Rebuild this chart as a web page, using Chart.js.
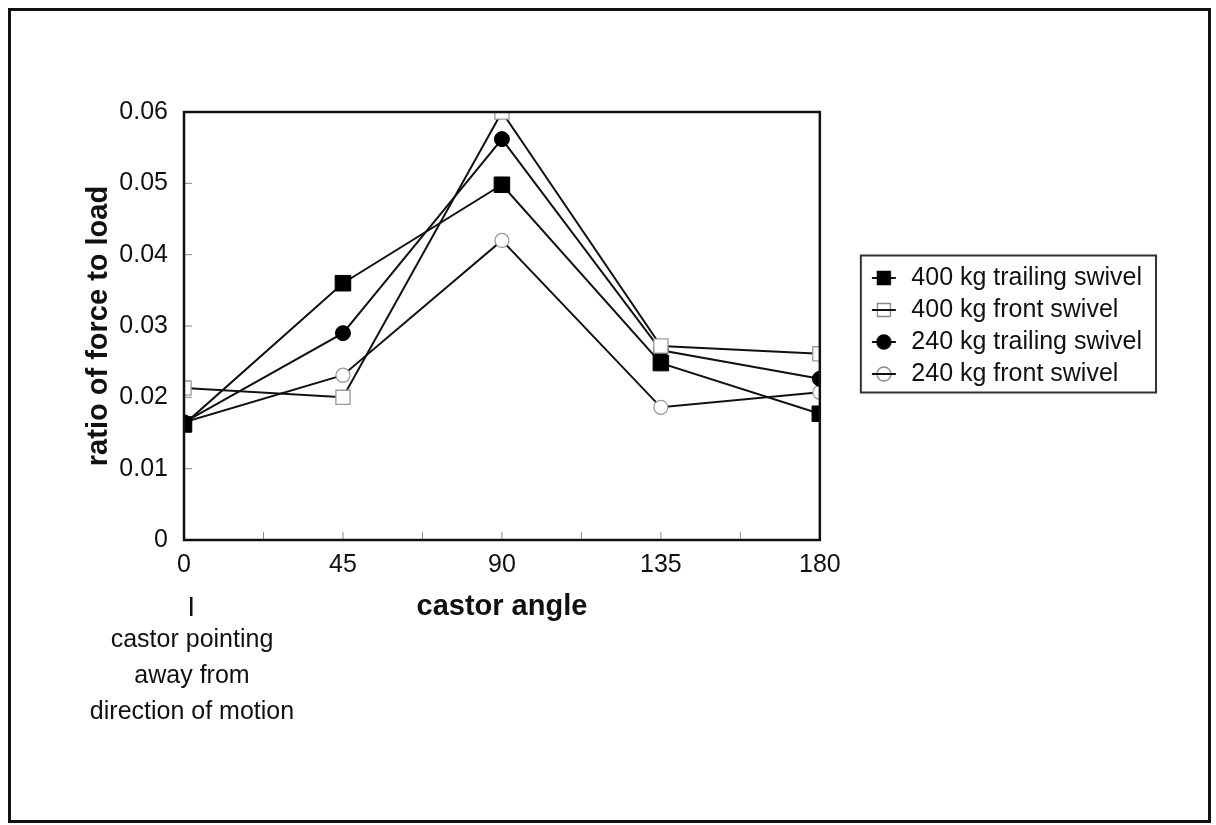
<!DOCTYPE html>
<html>
<head>
<meta charset="utf-8">
<script src="https://cdn.jsdelivr.net/npm/chart.js@4.4.1/dist/chart.umd.min.js"></script>
<style>
    body { margin: 0; background: #fff; }
    #wrap { position: relative; width: 1216px; height: 825px; }
    #frame {
        position: absolute; left: 8px; top: 8px; width: 1203px; height: 815px;
        box-sizing: border-box; border: 3px solid #111; pointer-events: none;
    }
</style>
</head>
<body>
<div id="wrap">
    <canvas id="grafico" width="1216" height="825"></canvas>
    <div id="frame"></div>
</div>
<script>
const angulos = [0, 45, 90, 135, 180];
const trailing400 = [0.0162, 0.0360, 0.0498, 0.0248, 0.0177];
const front400 = [0.0213, 0.0200, 0.0600, 0.0272, 0.0261];
const trailing240 = [0.0165, 0.0290, 0.0562, 0.0266, 0.0226];
const front240 = [0.0165, 0.0231, 0.0420, 0.0186, 0.0207];
const nomes = ['400 kg trailing swivel', '400 kg front swivel', '240 kg trailing swivel', '240 kg front swivel'];
const minorX = [22.5, 45, 67.5, 90, 112.5, 135, 157.5];
const nota = ['castor pointing', 'away from', 'direction of motion'];

const fonte = '"Liberation Sans", Arial, sans-serif';

function pontos(valores) {
    return angulos.map((a, i) => ({ x: a, y: valores[i] }));
}

// little icons for the legend: marker with a line through it
function icone(tipo, cheio) {
    const c = document.createElement('canvas');
    c.width = 26; c.height = 18;
    const g = c.getContext('2d');
    g.strokeStyle = '#111'; g.lineWidth = 2;
    g.beginPath(); g.moveTo(1, 9); g.lineTo(25, 9); g.stroke();
    g.fillStyle = cheio ? '#000' : '#fff';
    g.strokeStyle = cheio ? '#000' : '#888';
    g.lineWidth = 1.3;
    g.beginPath();
    if (tipo === 'rect') g.rect(6.5, 2.5, 13, 13);
    else g.arc(13, 9, 7, 0, Math.PI * 2);
    g.fill(); g.stroke();
    if (!cheio) { g.strokeStyle = '#111'; g.lineWidth = 2; g.beginPath(); g.moveTo(1, 9); g.lineTo(25, 9); g.stroke(); }
    return c;
}
const icones = [icone('rect', true), icone('rect', false), icone('circle', true), icone('circle', false)];

const extras = {
    id: 'extras',
    afterDraw(chart) {
        const { ctx, chartArea: a, scales: { x, y } } = chart;
        ctx.save();
        ctx.strokeStyle = '#888';
        ctx.lineWidth = 1;
        minorX.forEach(v => {
            const px = x.getPixelForValue(v);
            ctx.beginPath(); ctx.moveTo(px, a.bottom); ctx.lineTo(px, a.bottom - 8); ctx.stroke();
        });
        y.ticks.forEach(t => {
            const py = y.getPixelForValue(t.value);
            ctx.beginPath(); ctx.moveTo(a.left, py); ctx.lineTo(a.left + 8, py); ctx.stroke();
        });

        ctx.strokeStyle = '#111';
        ctx.lineWidth = 2.5;
        ctx.strokeRect(a.left, a.top, a.right - a.left, a.bottom - a.top);

        // box around the legend
        const lg = chart.legend;
        const hb = lg.legendHitBoxes;
        const topo = Math.min(...hb.map(h => h.top)) - 10;
        const base = Math.max(...hb.map(h => h.top + h.height)) + 6;
        const dir = Math.max(...hb.map(h => h.left + h.width)) + 14;
        ctx.lineWidth = 2;
        ctx.strokeStyle = '#333';
        ctx.strokeRect(lg.left - 1, topo, dir - lg.left + 1, base - topo);

        // note under the 0 tick
        const x0 = x.getPixelForValue(0) + 8;
        ctx.fillStyle = '#111';
        ctx.fillRect(x0 - 2, 597, 2.5, 19);
        ctx.font = '25px ' + fonte;
        ctx.textAlign = 'center';
        ctx.textBaseline = 'middle';
        nota.forEach((linha, i) => ctx.fillText(linha, x0, 640 + i * 36));
        ctx.restore();
    }
};

function serie(i, valores, estilo, cheio, raio) {
    return {
        label: nomes[i],
        data: pontos(valores),
        borderColor: '#111',
        borderWidth: 2,
        tension: 0,
        pointStyle: estilo,
        pointRadius: raio,
        pointBackgroundColor: cheio ? '#000' : '#fff',
        pointBorderColor: cheio ? '#000' : '#999',
        pointBorderWidth: cheio ? 1 : 1.3
    };
}

const ctx = document.getElementById('grafico').getContext('2d');
new Chart(ctx, {
    type: 'line',
    data: {
        datasets: [
            serie(0, trailing400, 'rect', true, 11),
            serie(1, front400, 'rect', false, 10),
            serie(2, trailing240, 'circle', true, 7.5),
            serie(3, front240, 'circle', false, 7)
        ]
    },
    options: {
        responsive: false,
        animation: false,
        devicePixelRatio: 1,
        layout: { padding: { left: 0, top: 112, right: 64, bottom: 185 } },
        plugins: {
            tooltip: { enabled: false },
            legend: {
                position: 'right',
                fullSize: false,
                maxWidth: 500,
                labels: {
                    usePointStyle: true,
                    pointStyleWidth: 30,
                    padding: 7,
                    color: '#111',
                    font: { family: fonte, size: 25 },
                    generateLabels(chart) {
                        const itens = Chart.defaults.plugins.legend.labels.generateLabels(chart);
                        itens.forEach((it, i) => { it.pointStyle = icones[i]; });
                        return itens;
                    }
                }
            }
        },
        scales: {
            x: {
                type: 'linear',
                min: 0,
                max: 180,
                grid: { display: false, drawTicks: false },
                border: { display: false },
                ticks: { stepSize: 45, padding: 10, color: '#111', font: { family: fonte, size: 25 } },
                title: { display: true, text: 'castor angle', color: '#111', padding: { top: 0, bottom: 16 }, font: { family: fonte, size: 29, weight: 'bold' } },
                afterFit(scale) { scale.height = 100; }
            },
            y: {
                min: 0,
                max: 0.06,
                grid: { display: false, drawTicks: false },
                border: { display: false },
                ticks: {
                    stepSize: 0.01,
                    padding: 16,
                    color: '#111',
                    font: { family: fonte, size: 25 },
                    callback: v => v === 0 ? '0' : v.toFixed(2)
                },
                title: { display: true, text: 'ratio of force to load', color: '#111', padding: { top: 82, bottom: 0 }, font: { family: fonte, size: 29, weight: 'bold' } },
                afterFit(scale) { scale.width = 184; }
            },
            y2: {
                position: 'right',
                min: 0,
                max: 0.06,
                grid: { display: false, drawTicks: false },
                border: { display: false },
                ticks: { display: false },
                afterFit(scale) { scale.width = 42; }
            }
        }
    },
    plugins: [extras]
});
</script>
</body>
</html>
